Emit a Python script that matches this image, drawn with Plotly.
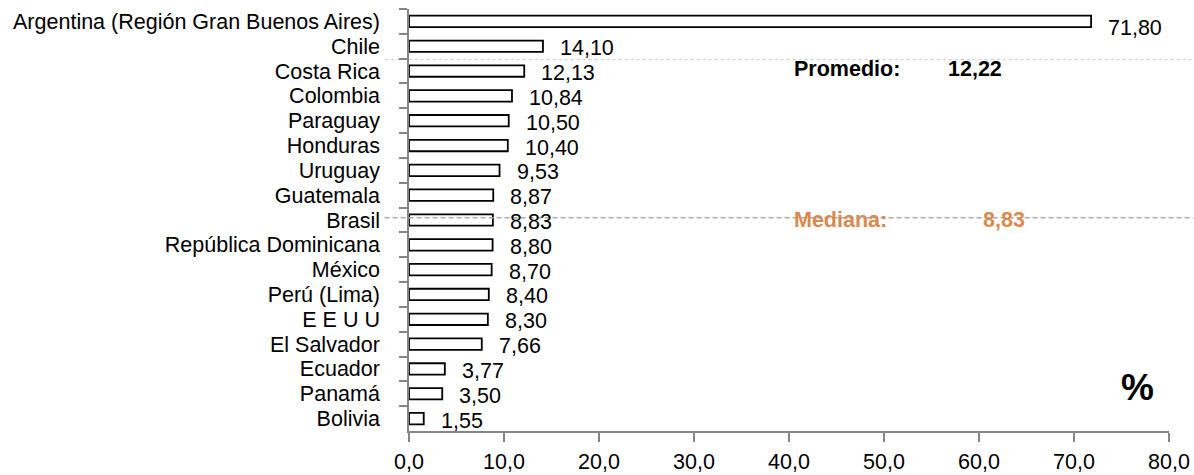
import plotly.graph_objects as go

countries = ["Argentina (Región Gran Buenos Aires)", "Chile", "Costa Rica", "Colombia",
             "Paraguay", "Honduras", "Uruguay", "Guatemala", "Brasil",
             "República Dominicana", "México", "Perú (Lima)", "E E U U",
             "El Salvador", "Ecuador", "Panamá", "Bolivia"]
values = [71.80, 14.10, 12.13, 10.84, 10.50, 10.40, 9.53, 8.87, 8.83,
          8.80, 8.70, 8.40, 8.30, 7.66, 3.77, 3.50, 1.55]
x_ticks = [0, 10, 20, 30, 40, 50, 60, 70, 80]
x_tick_labels = ["0,0", "10,0", "20,0", "30,0", "40,0", "50,0", "60,0", "70,0", "80,0"]
promedio = 12.22
mediana = 8.83

FONT = "Liberation Sans, Arial, sans-serif"
AXIS_GRAY = "#868686"
FS = 21.5

def fmt(v):
    return f"{v:.2f}".replace(".", ",")

fig = go.Figure()
fig.add_trace(go.Bar(
    x=values, y=countries, orientation="h", width=0.46,
    marker=dict(color="white", line=dict(color="black", width=1.8)),
    showlegend=False, hoverinfo="x+y",
))

annotations = []
for i, (c, v) in enumerate(zip(countries, values)):
    annotations.append(dict(
        x=v, y=c, xref="x", yref="y", text=fmt(v), showarrow=False,
        xanchor="left", yanchor="middle", xshift=15, yshift=(-7 if i == 0 else -2),
        font=dict(family=FONT, size=FS, color="black"),
    ))

# reference lines (paper coords)
shapes = [
    dict(type="line", xref="paper", yref="paper", x0=-0.032, x1=1.032,
         y0=0.880, y1=0.880, line=dict(color="#C8C8C8", width=1, dash="dot"), layer="below"),
    dict(type="line", xref="paper", yref="paper", x0=-0.032, x1=1.032,
         y0=0.5055, y1=0.5055, line=dict(color="#ABABAB", width=1.5, dash="5px,3px"), layer="above"),
]

annotations += [
    dict(x=0.504, y=0.858, xref="paper", yref="paper", text="<b>Promedio:</b>", showarrow=False,
         xanchor="left", yanchor="middle", font=dict(family=FONT, size=FS, color="black")),
    dict(x=0.706, y=0.858, xref="paper", yref="paper", text=f"<b>{fmt(promedio)}</b>", showarrow=False,
         xanchor="left", yanchor="middle", font=dict(family=FONT, size=FS, color="black")),
    dict(x=0.504, y=0.5005, xref="paper", yref="paper", text="<b>Mediana:</b>", showarrow=False,
         xanchor="left", yanchor="middle", font=dict(family=FONT, size=FS, color="#D98A4E")),
    dict(x=0.752, y=0.5005, xref="paper", yref="paper", text=f"<b>{fmt(mediana)}</b>", showarrow=False,
         xanchor="left", yanchor="middle", font=dict(family=FONT, size=FS, color="#D98A4E")),
    dict(x=0.958, y=0.102, xref="paper", yref="paper", text="<b>%</b>", showarrow=False,
         xanchor="center", yanchor="middle", font=dict(family=FONT, size=37, color="black")),
]

fig.update_layout(
    width=1194, height=475,
    margin=dict(l=409, r=25, t=9, b=44, autoexpand=False),
    paper_bgcolor="white", plot_bgcolor="white",
    separators=", ",
    font=dict(family=FONT, size=FS, color="black"),
    annotations=annotations, shapes=shapes,
)
fig.update_xaxes(
    range=[0, 80], autorange=False, tickmode="array", tickvals=x_ticks, ticktext=x_tick_labels,
    showline=True, linecolor=AXIS_GRAY, linewidth=1.5,
    ticks="outside", ticklen=9, tickcolor=AXIS_GRAY, tickwidth=1.5,
    showgrid=False, zeroline=False, automargin=False,
    ticklabelstandoff=1,
    tickfont=dict(family=FONT, size=FS, color="black"),
)
fig.update_yaxes(
    type="category", range=[len(countries) - 0.5, -0.5], autorange=False,
    tickmode="linear", tick0=0, dtick=1,
    showline=True, linecolor=AXIS_GRAY, linewidth=1.5,
    ticks="outside", ticklen=8, tickcolor=AXIS_GRAY, tickwidth=1.5,
    tickson="boundaries", showgrid=False, zeroline=False, automargin=False,
    ticklabelstandoff=23,
    tickfont=dict(family=FONT, size=FS, color="black"),
)

fig.write_html("out.html", config={"displayModeBar": False},
               post_script="document.body.style.margin='0';document.body.style.overflow='hidden';")
